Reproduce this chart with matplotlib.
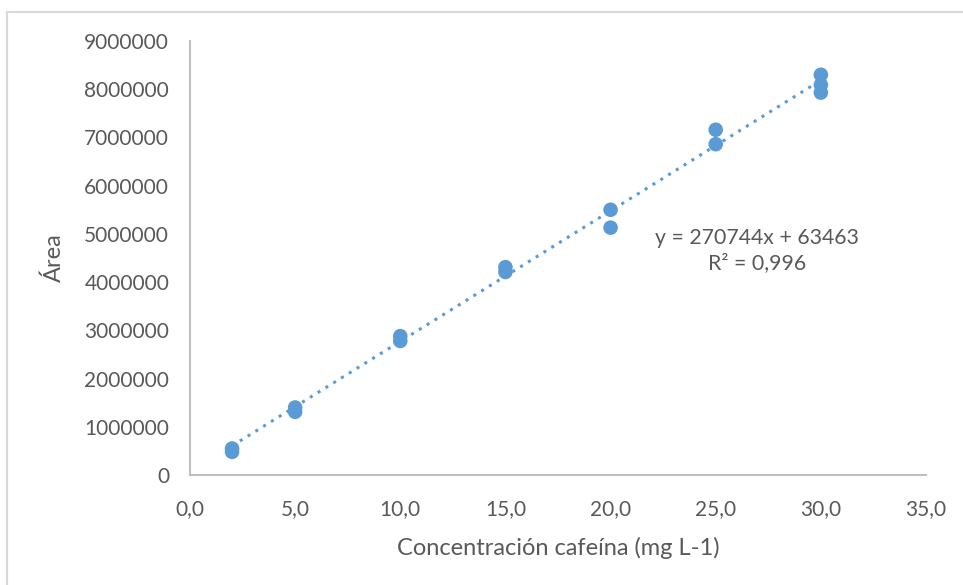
import numpy as np
import matplotlib.pyplot as plt
from matplotlib.patches import Rectangle
from matplotlib.ticker import FuncFormatter

# calibration data: caffeine concentration vs peak area (replicates)
conc = [2, 2, 5, 5, 10, 10, 15, 15, 20, 20, 25, 25, 30, 30, 30]
area = [550000, 480000, 1400000, 1310000, 2880000, 2780000,
        4310000, 4210000, 5500000, 5130000, 7160000, 6860000,
        8300000, 8090000, 7930000]

slope = 270744
intercept = 63463
r2 = 0.996

x_ticks = [0, 5, 10, 15, 20, 25, 30, 35]
y_ticks = [0, 1000000, 2000000, 3000000, 4000000, 5000000,
           6000000, 7000000, 8000000, 9000000]

BLUE = "#5B9BD5"
TEXT = "#595959"
AXIS = "#BFBFBF"

plt.rcParams["font.family"] = ["Lato", "DejaVu Sans"]

fig = plt.figure(figsize=(9.63, 5.85), dpi=100)
W, H = 963, 585

# outer chart frame
fig.patches.append(Rectangle((7 / W, -0.05), 1.1, 1 - 12 / H + 0.05,
                             transform=fig.transFigure, fill=False,
                             edgecolor="#D9D9D9", linewidth=1.5))

ax = fig.add_axes([190 / W, 1 - 475 / H, (926 - 190) / W, (475 - 41) / H])

# trend line
xt = np.array([min(conc), max(conc)])
ax.plot(xt, slope * xt + intercept, linestyle=(0, (1, 2)), color=BLUE,
        linewidth=2.2, zorder=2)
ax.scatter(conc, area, s=110, color=BLUE, edgecolors="none", zorder=3)

ax.set_xlim(0, 35)
ax.set_ylim(0, 9000000)
ax.set_xticks(x_ticks)
ax.set_yticks(y_ticks)
ax.xaxis.set_major_formatter(FuncFormatter(lambda v, p: f"{v:.1f}".replace(".", ",")))
ax.yaxis.set_major_formatter(FuncFormatter(lambda v, p: f"{int(v)}"))
ax.tick_params(length=0, labelsize=15, colors=TEXT)
ax.tick_params(axis="y", pad=15)
ax.tick_params(axis="x", pad=17)

for side in ["top", "right"]:
    ax.spines[side].set_visible(False)
for side in ["left", "bottom"]:
    ax.spines[side].set_color(AXIS)
    ax.spines[side].set_linewidth(1.5)

ax.set_xlabel("Concentración cafeína (mg L-1)", fontsize=17, color=TEXT, labelpad=13)
ax.set_ylabel("Área", fontsize=17, color=TEXT, labelpad=14)

eq = f"y = {slope}x + {intercept}\nR² = {str(r2).replace('.', ',')}"
ax.text(26.95, 4650000, eq, ha="center", va="center", fontsize=15.3,
        color=TEXT, linespacing=1.3)

fig.savefig("out.png", dpi=100, facecolor="white")
